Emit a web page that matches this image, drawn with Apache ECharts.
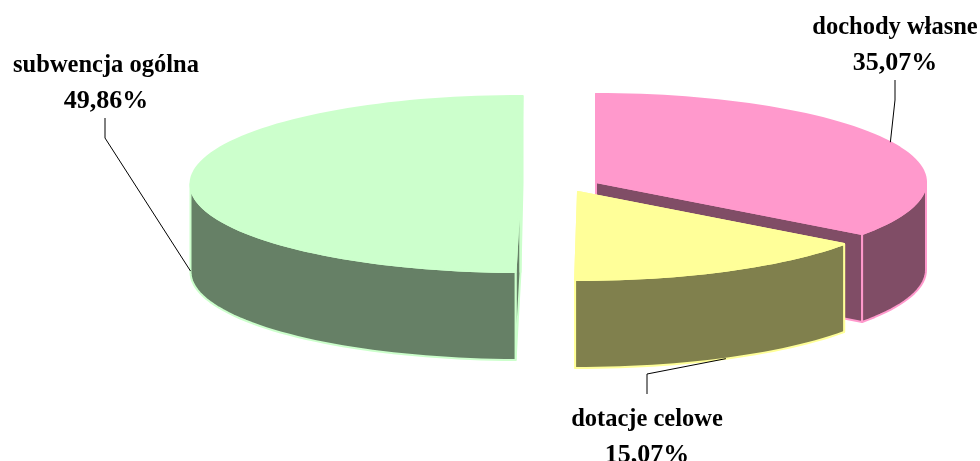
<!DOCTYPE html>
<html>
<head>
<meta charset="utf-8">
<style>html,body{margin:0;padding:0;background:#fff}#c{width:980px;height:461px}</style>
<script src="https://cdn.jsdelivr.net/npm/echarts@6/dist/echarts.min.js"></script>
</head>
<body>
<div id="c"></div>
<script>
var categories = ['dochody własne', 'dotacje celowe', 'subwencja ogólna'];
var shares = [35.07, 15.07, 49.86];
var percentLabels = ['35,07%', '15,07%', '49,86%'];

var topColors = ['#FF99CC', '#FFFF99', '#CCFFCC'];
var wallColors = ['#804D66', '#80804D', '#668066'];
var drawOrder = [1, 2, 0];
var centres = [[596, 182], [578, 192], [520.5, 184]];
var angleNudge = [0, 0, 0.35];
var labelPos = [[895, 28], [647, 420], [106, 66]];
var leaderKnee = [[895, 100], [647, 374], [105, 138]];
var leaderEnd = [[895, 80], [647, 394], [105, 118]];

var RX = 330, RY = 88, DEPTH = 88;
var FAMILY = '"Liberation Serif", "Times New Roman", serif';
var NAME_FONT = 'bold 24.5px ' + FAMILY;
var PCT_FONT = 'bold 26px ' + FAMILY;

function pt(c, deg, dy) {
  var r = deg * Math.PI / 180;
  return [c[0] + RX * Math.sin(r), c[1] - RY * Math.cos(r) + (dy || 0)];
}
function arc(c, a0, a1, dy) {
  var out = [], n = Math.max(2, Math.ceil(Math.abs(a1 - a0) / 2));
  for (var i = 0; i <= n; i++) out.push(pt(c, a0 + (a1 - a0) * i / n, dy));
  return out;
}
var total = shares.reduce(function (a, b) { return a + b; }, 0);

function renderItem(params, api) {
  var i = params.dataIndex, before = 0;
  for (var k = 0; k < i; k++) before += shares[k];
  var a0 = angleNudge[i] + before / total * 360;
  var a1 = a0 + api.value(0) / total * 360;
  var mid = (a0 + a1) / 2;
  var c = centres[i], z = drawOrder[i] * 10;
  var light = topColors[i], dark = wallColors[i];
  var kids = [];
  function poly(points, fill, z2) {
    kids.push({ type: 'polygon', z2: z2, shape: { points: points },
      style: { fill: fill, stroke: light, lineWidth: 2, lineJoin: 'round' } });
  }
  var cBottom = [c[0], c[1] + DEPTH];
  // cut faces
  var e0 = pt(c, a0), e1 = pt(c, a1);
  poly([c, cBottom, pt(c, a0, DEPTH), e0], dark, z + 1);
  poly([c, cBottom, pt(c, a1, DEPTH), e1], dark, z + 1);
  // outer wall: only the front half of the rim is visible
  var w0 = Math.max(a0, 90), w1 = Math.min(a1, 270);
  if (w1 > w0) poly(arc(c, w0, w1, 0).concat(arc(c, w1, w0, DEPTH)), dark, z + 2);
  // top face
  poly([c].concat(arc(c, a0, a1, 0)), light, z + 3);
  // leader line: attached to the visible rim at the slice's middle angle
  var onWall = mid > 120 && mid < 300;
  var anchor = pt(c, mid, onWall ? DEPTH : 0);
  kids.push({ type: 'polyline', z2: 60, shape: { points: [leaderEnd[i], leaderKnee[i], anchor] },
    style: { fill: null, stroke: '#000', lineWidth: 1 } });
  // label
  var p = labelPos[i];
  kids.push({ type: 'text', z2: 70, x: p[0], y: p[1], style: { text: api.value(1), font: NAME_FONT, fill: '#000',
    textAlign: 'center', textVerticalAlign: 'middle' } });
  kids.push({ type: 'text', z2: 70, x: p[0], y: p[1] + 35, style: { text: percentLabels[i], font: PCT_FONT, fill: '#000',
    textAlign: 'center', textVerticalAlign: 'middle' } });
  return { type: 'group', children: kids };
}

var chart = echarts.init(document.getElementById('c'), null, { renderer: 'canvas' });
chart.setOption({
  animation: false,
  backgroundColor: '#fff',
  series: [{
    type: 'custom',
    coordinateSystem: 'none',
    renderItem: renderItem,
    data: shares.map(function (v, i) { return [v, categories[i]]; })
  }]
});
</script>
</body>
</html>
